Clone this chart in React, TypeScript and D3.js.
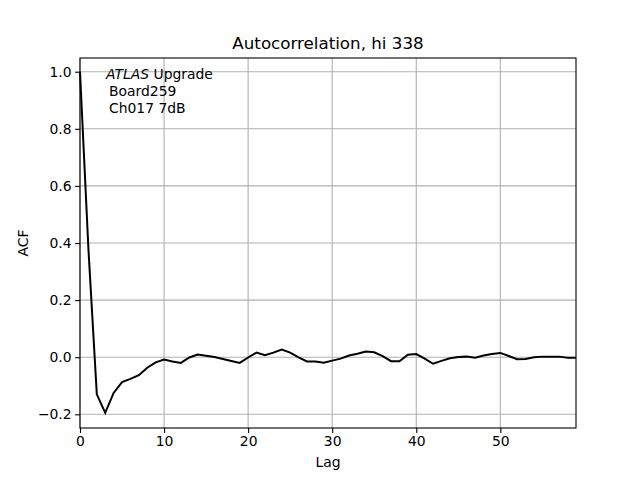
import React, { useEffect, useRef } from 'react';
import * as d3 from 'd3';

// ACF values, one per lag (0..59)
const acf = [
  1.0, 0.38, -0.13, -0.195, -0.125, -0.087, -0.076, -0.063, -0.037, -0.018,
  -0.008, -0.015, -0.02, -0.001, 0.009, 0.005, 0.001, -0.006, -0.013, -0.02,
  -0.001, 0.016, 0.007, 0.016, 0.027, 0.016, -0.001, -0.015, -0.015, -0.019,
  -0.012, -0.005, 0.006, 0.012, 0.02, 0.017, 0.004, -0.014, -0.014, 0.009,
  0.011, -0.005, -0.023, -0.013, -0.004, 0.001, 0.002, -0.002, 0.006, 0.011,
  0.015, 0.004, -0.007, -0.006, 0.0, 0.002, 0.002, 0.002, -0.002, -0.002,
];
const xTicks = [0, 10, 20, 30, 40, 50];
const yTicks = [-0.2, 0.0, 0.2, 0.4, 0.6, 0.8, 1.0];
const title = 'Autocorrelation, hi 338';
const noteLines = ['Board259', 'Ch017 7dB'];

const App = () => {
  const ref = useRef<SVGSVGElement>(null);

  useEffect(() => {
    const svg = d3.select(ref.current);
    svg.selectAll('*').remove();

    const width = 640;
    const height = 480;
    const margin = { top: 58, right: 64, bottom: 52, left: 80 };
    const w = width - margin.left - margin.right;
    const h = height - margin.top - margin.bottom;
    const font = 'DejaVu Sans, sans-serif';

    const x = d3.scaleLinear().domain([0, 59]).range([0, w]);
    const y = d3.scaleLinear().domain([-0.248, 1.048]).range([h, 0]);

    svg.append('rect').attr('width', width).attr('height', height).attr('fill', 'white');

    const g = svg.append('g').attr('transform', `translate(${margin.left},${margin.top})`);

    // grid
    g.append('g')
      .selectAll('line')
      .data(xTicks)
      .join('line')
      .attr('x1', (d) => x(d))
      .attr('x2', (d) => x(d))
      .attr('y1', 0)
      .attr('y2', h)
      .attr('stroke', '#b0b0b0')
      .attr('stroke-width', 1.1);
    g.append('g')
      .selectAll('line')
      .data(yTicks)
      .join('line')
      .attr('x1', 0)
      .attr('x2', w)
      .attr('y1', (d) => y(d))
      .attr('y2', (d) => y(d))
      .attr('stroke', '#b0b0b0')
      .attr('stroke-width', 1.1);

    // line
    const line = d3
      .line<number>()
      .x((_, i) => x(i))
      .y((d) => y(d));
    g.append('path')
      .datum(acf)
      .attr('d', line)
      .attr('fill', 'none')
      .attr('stroke', 'black')
      .attr('stroke-width', 2);

    // axes
    const fmt = (d: d3.NumberValue) => d3.format('.1f')(+d).replace('-', '\u2212');
    const xAxis = g
      .append('g')
      .attr('transform', `translate(0,${h})`)
      .call(d3.axisBottom(x).tickValues(xTicks).tickSize(4.9).tickPadding(3.5).tickFormat(d3.format('d')));
    const yAxis = g
      .append('g')
      .call(d3.axisLeft(y).tickValues(yTicks).tickSize(4.9).tickPadding(3.5).tickFormat(fmt));
    [xAxis, yAxis].forEach((a) => {
      a.select('.domain').remove();
      a.selectAll('text').attr('font-family', font).attr('font-size', 13.9).attr('fill', 'black');
      a.selectAll('line').attr('stroke', 'black').attr('stroke-width', 1.1);
    });

    // frame
    g.append('rect')
      .attr('width', w)
      .attr('height', h)
      .attr('fill', 'none')
      .attr('stroke', 'black')
      .attr('stroke-width', 1.1);

    // title and labels
    svg.append('text')
      .attr('x', margin.left + w / 2)
      .attr('y', 49)
      .attr('text-anchor', 'middle')
      .attr('font-family', font)
      .attr('font-size', 16.7)
      .text(title);
    svg.append('text')
      .attr('x', margin.left + w / 2)
      .attr('y', 467)
      .attr('text-anchor', 'middle')
      .attr('font-family', font)
      .attr('font-size', 13.9)
      .text('Lag');
    svg.append('text')
      .attr('transform', `translate(28,${margin.top + h / 2}) rotate(-90)`)
      .attr('text-anchor', 'middle')
      .attr('font-family', font)
      .attr('font-size', 13.9)
      .text('ACF');

    // annotation
    const note = svg.append('text')
      .attr('font-family', font)
      .attr('font-size', 13.9)
      .attr('x', 106)
      .attr('y', 79);
    note.append('tspan').attr('font-style', 'italic').text('ATLAS');
    note.append('tspan').text(' Upgrade');
    noteLines.forEach((t, i) => {
      svg.append('text')
        .attr('font-family', font)
        .attr('font-size', 13.9)
        .attr('x', 109)
        .attr('y', 96 + i * 16.5)
        .text(t);
    });
  }, []);

  return (
    <svg
      ref={ref}
      width={640}
      height={480}
      style={{ display: 'block', position: 'absolute', left: 0, top: 0 }}
    />
  );
};

export default App;
